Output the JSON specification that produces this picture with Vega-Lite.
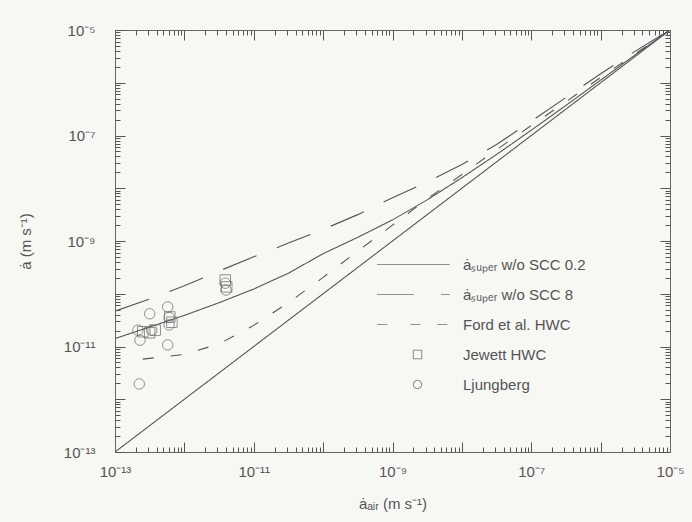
{
  "$schema": "https://vega.github.io/schema/vega-lite/v6.json",
  "width": 555,
  "height": 422,
  "autosize": "none",
  "padding": {"left": 115, "top": 30, "right": 22, "bottom": 70},
  "background": "#f7f7f4",
  "config": {
    "view": {"stroke": null},
    "font": "Liberation Sans",
    "axis": {
      "domainColor": "#666", "tickColor": "#555", "labelColor": "#555", "titleColor": "#555",
      "labelFont": "Liberation Sans", "titleFont": "Liberation Sans",
      "labelFontSize": 15, "titleFontSize": 15, "titleFontWeight": "normal", "grid": false
    },
    "legend": {"labelFont": "Liberation Sans", "labelFontSize": 15, "labelColor": "#555"}
  },
  "datasets": {
    "curves": [
      {"series": "ȧₛᵤₚₑᵣ  w/o SCC 0.2", "x": 1e-13, "y": 1.413e-11},
      {"series": "ȧₛᵤₚₑᵣ  w/o SCC 0.2", "x": 3.162e-13, "y": 2.344e-11},
      {"series": "ȧₛᵤₚₑᵣ  w/o SCC 0.2", "x": 1e-12, "y": 3.890e-11},
      {"series": "ȧₛᵤₚₑᵣ  w/o SCC 0.2", "x": 3.162e-12, "y": 6.761e-11},
      {"series": "ȧₛᵤₚₑᵣ  w/o SCC 0.2", "x": 1e-11, "y": 1.230e-10},
      {"series": "ȧₛᵤₚₑᵣ  w/o SCC 0.2", "x": 3.162e-11, "y": 2.455e-10},
      {"series": "ȧₛᵤₚₑᵣ  w/o SCC 0.2", "x": 1e-10, "y": 5.754e-10},
      {"series": "ȧₛᵤₚₑᵣ  w/o SCC 0.2", "x": 3.162e-10, "y": 1.175e-9},
      {"series": "ȧₛᵤₚₑᵣ  w/o SCC 0.2", "x": 1e-9, "y": 2.512e-9},
      {"series": "ȧₛᵤₚₑᵣ  w/o SCC 0.2", "x": 3.162e-9, "y": 6.026e-9},
      {"series": "ȧₛᵤₚₑᵣ  w/o SCC 0.2", "x": 1e-8, "y": 1.585e-8},
      {"series": "ȧₛᵤₚₑᵣ  w/o SCC 0.2", "x": 3.162e-8, "y": 4.365e-8},
      {"series": "ȧₛᵤₚₑᵣ  w/o SCC 0.2", "x": 1e-7, "y": 1.259e-7},
      {"series": "ȧₛᵤₚₑᵣ  w/o SCC 0.2", "x": 3.162e-7, "y": 3.715e-7},
      {"series": "ȧₛᵤₚₑᵣ  w/o SCC 0.2", "x": 1e-6, "y": 1.122e-6},
      {"series": "ȧₛᵤₚₑᵣ  w/o SCC 0.2", "x": 3.162e-6, "y": 3.388e-6},
      {"series": "ȧₛᵤₚₑᵣ  w/o SCC 0.2", "x": 1e-5, "y": 1e-5},
      {"series": "ȧₛᵤₚₑᵣ  w/o SCC 8", "x": 1e-13, "y": 4.677e-11},
      {"series": "ȧₛᵤₚₑᵣ  w/o SCC 8", "x": 3.162e-13, "y": 7.943e-11},
      {"series": "ȧₛᵤₚₑᵣ  w/o SCC 8", "x": 1e-12, "y": 1.413e-10},
      {"series": "ȧₛᵤₚₑᵣ  w/o SCC 8", "x": 3.162e-12, "y": 2.692e-10},
      {"series": "ȧₛᵤₚₑᵣ  w/o SCC 8", "x": 1e-11, "y": 5.012e-10},
      {"series": "ȧₛᵤₚₑᵣ  w/o SCC 8", "x": 3.162e-11, "y": 9.120e-10},
      {"series": "ȧₛᵤₚₑᵣ  w/o SCC 8", "x": 1e-10, "y": 1.660e-9},
      {"series": "ȧₛᵤₚₑᵣ  w/o SCC 8", "x": 3.162e-10, "y": 3.162e-9},
      {"series": "ȧₛᵤₚₑᵣ  w/o SCC 8", "x": 1e-9, "y": 6.607e-9},
      {"series": "ȧₛᵤₚₑᵣ  w/o SCC 8", "x": 3.162e-9, "y": 1.318e-8},
      {"series": "ȧₛᵤₚₑᵣ  w/o SCC 8", "x": 1e-8, "y": 2.818e-8},
      {"series": "ȧₛᵤₚₑᵣ  w/o SCC 8", "x": 3.162e-8, "y": 6.761e-8},
      {"series": "ȧₛᵤₚₑᵣ  w/o SCC 8", "x": 1e-7, "y": 1.862e-7},
      {"series": "ȧₛᵤₚₑᵣ  w/o SCC 8", "x": 3.162e-7, "y": 5.248e-7},
      {"series": "ȧₛᵤₚₑᵣ  w/o SCC 8", "x": 1e-6, "y": 1.479e-6},
      {"series": "ȧₛᵤₚₑᵣ  w/o SCC 8", "x": 3.162e-6, "y": 3.981e-6},
      {"series": "ȧₛᵤₚₑᵣ  w/o SCC 8", "x": 1e-5, "y": 1e-5},
      {"series": "Ford et al. HWC", "x": 2.512e-13, "y": 5.754e-12},
      {"series": "Ford et al. HWC", "x": 1e-12, "y": 7.079e-12},
      {"series": "Ford et al. HWC", "x": 3.162e-12, "y": 1.122e-11},
      {"series": "Ford et al. HWC", "x": 1e-11, "y": 2.512e-11},
      {"series": "Ford et al. HWC", "x": 3.162e-11, "y": 6.761e-11},
      {"series": "Ford et al. HWC", "x": 1e-10, "y": 2.042e-10},
      {"series": "Ford et al. HWC", "x": 3.162e-10, "y": 6.457e-10},
      {"series": "Ford et al. HWC", "x": 1e-9, "y": 1.995e-9},
      {"series": "Ford et al. HWC", "x": 3.162e-9, "y": 6.310e-9},
      {"series": "Ford et al. HWC", "x": 1e-8, "y": 1.820e-8},
      {"series": "Ford et al. HWC", "x": 3.162e-8, "y": 5.370e-8},
      {"series": "Ford et al. HWC", "x": 1e-7, "y": 1.549e-7},
      {"series": "Ford et al. HWC", "x": 3.162e-7, "y": 4.365e-7},
      {"series": "Ford et al. HWC", "x": 1e-6, "y": 1.259e-6},
      {"series": "Ford et al. HWC", "x": 3.162e-6, "y": 3.548e-6},
      {"series": "Ford et al. HWC", "x": 1e-5, "y": 1e-5},
      {"series": "ȧ = ȧair", "x": 1e-13, "y": 1e-13},
      {"series": "ȧ = ȧair", "x": 1e-5, "y": 1e-5}
    ],
    "points": [
      {"source": "Jewett  HWC", "x": 2.512e-13, "y": 1.905e-11},
      {"source": "Jewett  HWC", "x": 3.162e-13, "y": 1.820e-11},
      {"source": "Jewett  HWC", "x": 3.802e-13, "y": 2.042e-11},
      {"source": "Jewett  HWC", "x": 6.166e-13, "y": 3.631e-11},
      {"source": "Jewett  HWC", "x": 6.607e-13, "y": 2.884e-11},
      {"source": "Jewett  HWC", "x": 3.890e-12, "y": 1.820e-10},
      {"source": "Jewett  HWC", "x": 4.074e-12, "y": 1.349e-10},
      {"source": "Ljungberg", "x": 3.162e-13, "y": 4.169e-11},
      {"source": "Ljungberg", "x": 5.754e-13, "y": 5.623e-11},
      {"source": "Ljungberg", "x": 6.026e-13, "y": 2.570e-11},
      {"source": "Ljungberg", "x": 6.026e-13, "y": 3.548e-11},
      {"source": "Ljungberg", "x": 5.754e-13, "y": 1.072e-11},
      {"source": "Ljungberg", "x": 2.239e-13, "y": 1.950e-12},
      {"source": "Ljungberg", "x": 2.138e-13, "y": 2.042e-11},
      {"source": "Ljungberg", "x": 2.291e-13, "y": 1.318e-11},
      {"source": "Ljungberg", "x": 3.388e-13, "y": 2.042e-11},
      {"source": "Ljungberg", "x": 3.890e-12, "y": 1.585e-10},
      {"source": "Ljungberg", "x": 3.981e-12, "y": 1.175e-10}
    ]
  },
  "resolve": {"axis": {"x": "independent", "y": "independent"}},
  "layer": [
    {
      "data": {"name": "curves"},
      "mark": {"type": "line", "strokeWidth": 1.1, "color": "#555", "clip": true},
      "encoding": {
        "x": {
          "field": "x", "type": "quantitative",
          "scale": {"type": "log", "domain": [1e-13, 1e-5], "nice": false},
          "axis": {
            "orient": "bottom",
            "title": "ȧₐᵢᵣ   (m s⁻¹)",
            "titlePadding": 12,
            "values": [1e-13,2e-13,3e-13,4e-13,5e-13,6e-13,7e-13,8e-13,9e-13,1e-12,2e-12,3e-12,4e-12,5e-12,6e-12,7e-12,8e-12,9e-12,1e-11,2e-11,3e-11,4e-11,5e-11,6e-11,7e-11,8e-11,9e-11,1e-10,2e-10,3e-10,4e-10,5e-10,6e-10,7e-10,8e-10,9e-10,1e-9,2e-9,3e-9,4e-9,5e-9,6e-9,7e-9,8e-9,9e-9,1e-8,2e-8,3e-8,4e-8,5e-8,6e-8,7e-8,8e-8,9e-8,1e-7,2e-7,3e-7,4e-7,5e-7,6e-7,7e-7,8e-7,9e-7,1e-6,2e-6,3e-6,4e-6,5e-6,6e-6,7e-6,8e-6,9e-6,1e-5],
            "tickSize": {"condition": {"test": "abs(log(datum.value)/LN10 - round(log(datum.value)/LN10)) < 0.001", "value": -10}, "value": -5},
            "labelPadding": 22,
            "labelExpr": "abs(log(datum.value)/LN10 + 13) < 0.001 ? '10⁻¹³' : abs(log(datum.value)/LN10 + 11) < 0.001 ? '10⁻¹¹' : abs(log(datum.value)/LN10 + 9) < 0.001 ? '10⁻⁹' : abs(log(datum.value)/LN10 + 7) < 0.001 ? '10⁻⁷' : abs(log(datum.value)/LN10 + 5) < 0.001 ? '10⁻⁵' : ''",
            "labelOverlap": false,
            "labelFlush": false
          }
        },
        "y": {
          "field": "y", "type": "quantitative",
          "scale": {"type": "log", "domain": [1e-13, 1e-5], "nice": false},
          "axis": {
            "orient": "left",
            "title": "ȧ   (m s⁻¹)",
            "titlePadding": 30,
            "values": [1e-13,2e-13,3e-13,4e-13,5e-13,6e-13,7e-13,8e-13,9e-13,1e-12,2e-12,3e-12,4e-12,5e-12,6e-12,7e-12,8e-12,9e-12,1e-11,2e-11,3e-11,4e-11,5e-11,6e-11,7e-11,8e-11,9e-11,1e-10,2e-10,3e-10,4e-10,5e-10,6e-10,7e-10,8e-10,9e-10,1e-9,2e-9,3e-9,4e-9,5e-9,6e-9,7e-9,8e-9,9e-9,1e-8,2e-8,3e-8,4e-8,5e-8,6e-8,7e-8,8e-8,9e-8,1e-7,2e-7,3e-7,4e-7,5e-7,6e-7,7e-7,8e-7,9e-7,1e-6,2e-6,3e-6,4e-6,5e-6,6e-6,7e-6,8e-6,9e-6,1e-5],
            "tickSize": {"condition": {"test": "abs(log(datum.value)/LN10 - round(log(datum.value)/LN10)) < 0.001", "value": -10}, "value": -5},
            "labelPadding": 30,
            "labelExpr": "abs(log(datum.value)/LN10 + 13) < 0.001 ? '10⁻¹³' : abs(log(datum.value)/LN10 + 11) < 0.001 ? '10⁻¹¹' : abs(log(datum.value)/LN10 + 9) < 0.001 ? '10⁻⁹' : abs(log(datum.value)/LN10 + 7) < 0.001 ? '10⁻⁷' : abs(log(datum.value)/LN10 + 5) < 0.001 ? '10⁻⁵' : ''",
            "labelOverlap": false,
            "labelFlush": false
          }
        },
        "detail": {"field": "series"},
        "strokeDash": {
          "field": "series", "type": "nominal",
          "scale": {
            "domain": ["ȧₛᵤₚₑᵣ  w/o SCC 0.2", "ȧₛᵤₚₑᵣ  w/o SCC 8", "Ford et al. HWC", "ȧ = ȧair"],
            "range": [[1, 0], [36, 22], [11, 17], [1, 0]]
          },
          "legend": null
        }
      }
    },
    {
      "data": {"name": "points"},
      "mark": {"type": "point", "filled": false, "color": "#666", "strokeWidth": 1, "size": 110},
      "encoding": {
        "x": {
          "field": "x", "type": "quantitative",
          "scale": {"type": "log", "domain": [1e-13, 1e-5], "nice": false},
          "axis": {
            "orient": "top", "title": null, "labels": false,
            "values": [1e-13,2e-13,3e-13,4e-13,5e-13,6e-13,7e-13,8e-13,9e-13,1e-12,2e-12,3e-12,4e-12,5e-12,6e-12,7e-12,8e-12,9e-12,1e-11,2e-11,3e-11,4e-11,5e-11,6e-11,7e-11,8e-11,9e-11,1e-10,2e-10,3e-10,4e-10,5e-10,6e-10,7e-10,8e-10,9e-10,1e-9,2e-9,3e-9,4e-9,5e-9,6e-9,7e-9,8e-9,9e-9,1e-8,2e-8,3e-8,4e-8,5e-8,6e-8,7e-8,8e-8,9e-8,1e-7,2e-7,3e-7,4e-7,5e-7,6e-7,7e-7,8e-7,9e-7,1e-6,2e-6,3e-6,4e-6,5e-6,6e-6,7e-6,8e-6,9e-6,1e-5],
            "tickSize": {"condition": {"test": "abs(log(datum.value)/LN10 - round(log(datum.value)/LN10)) < 0.001", "value": -10}, "value": -5}
          }
        },
        "y": {
          "field": "y", "type": "quantitative",
          "scale": {"type": "log", "domain": [1e-13, 1e-5], "nice": false},
          "axis": {
            "orient": "right", "title": null, "labels": false,
            "values": [1e-13,2e-13,3e-13,4e-13,5e-13,6e-13,7e-13,8e-13,9e-13,1e-12,2e-12,3e-12,4e-12,5e-12,6e-12,7e-12,8e-12,9e-12,1e-11,2e-11,3e-11,4e-11,5e-11,6e-11,7e-11,8e-11,9e-11,1e-10,2e-10,3e-10,4e-10,5e-10,6e-10,7e-10,8e-10,9e-10,1e-9,2e-9,3e-9,4e-9,5e-9,6e-9,7e-9,8e-9,9e-9,1e-8,2e-8,3e-8,4e-8,5e-8,6e-8,7e-8,8e-8,9e-8,1e-7,2e-7,3e-7,4e-7,5e-7,6e-7,7e-7,8e-7,9e-7,1e-6,2e-6,3e-6,4e-6,5e-6,6e-6,7e-6,8e-6,9e-6,1e-5],
            "tickSize": {"condition": {"test": "abs(log(datum.value)/LN10 - round(log(datum.value)/LN10)) < 0.001", "value": -10}, "value": -5}
          }
        },
        "shape": {
          "field": "source", "type": "nominal",
          "scale": {
            "domain": ["ȧₛᵤₚₑᵣ  w/o SCC 0.2", "ȧₛᵤₚₑᵣ  w/o SCC 8", "Ford et al. HWC", "Jewett  HWC", "Ljungberg"],
            "range": ["M-9.7,0H7.7", "M-9.7,0H-0.9M5.6,0H7.7", "M-9.6,0H-7.2M-1.7,0H0.7M4.7,0H7.1", "square", "circle"]
          },
          "legend": {
            "values": ["ȧₛᵤₚₑᵣ  w/o SCC 0.2", "ȧₛᵤₚₑᵣ  w/o SCC 8", "Ford et al. HWC", "Jewett  HWC", "Ljungberg"],
            "title": null,
            "orient": "none",
            "legendX": 295,
            "legendY": 227,
            "symbolStrokeColor": "#666",
            "symbolStrokeWidth": 1.1,
            "symbolSize": 70,
            "symbolFillColor": "transparent",
            "rowPadding": 14,
            "labelOffset": 38,
            "padding": 0
          }
        }
      }
    }
  ]
}
